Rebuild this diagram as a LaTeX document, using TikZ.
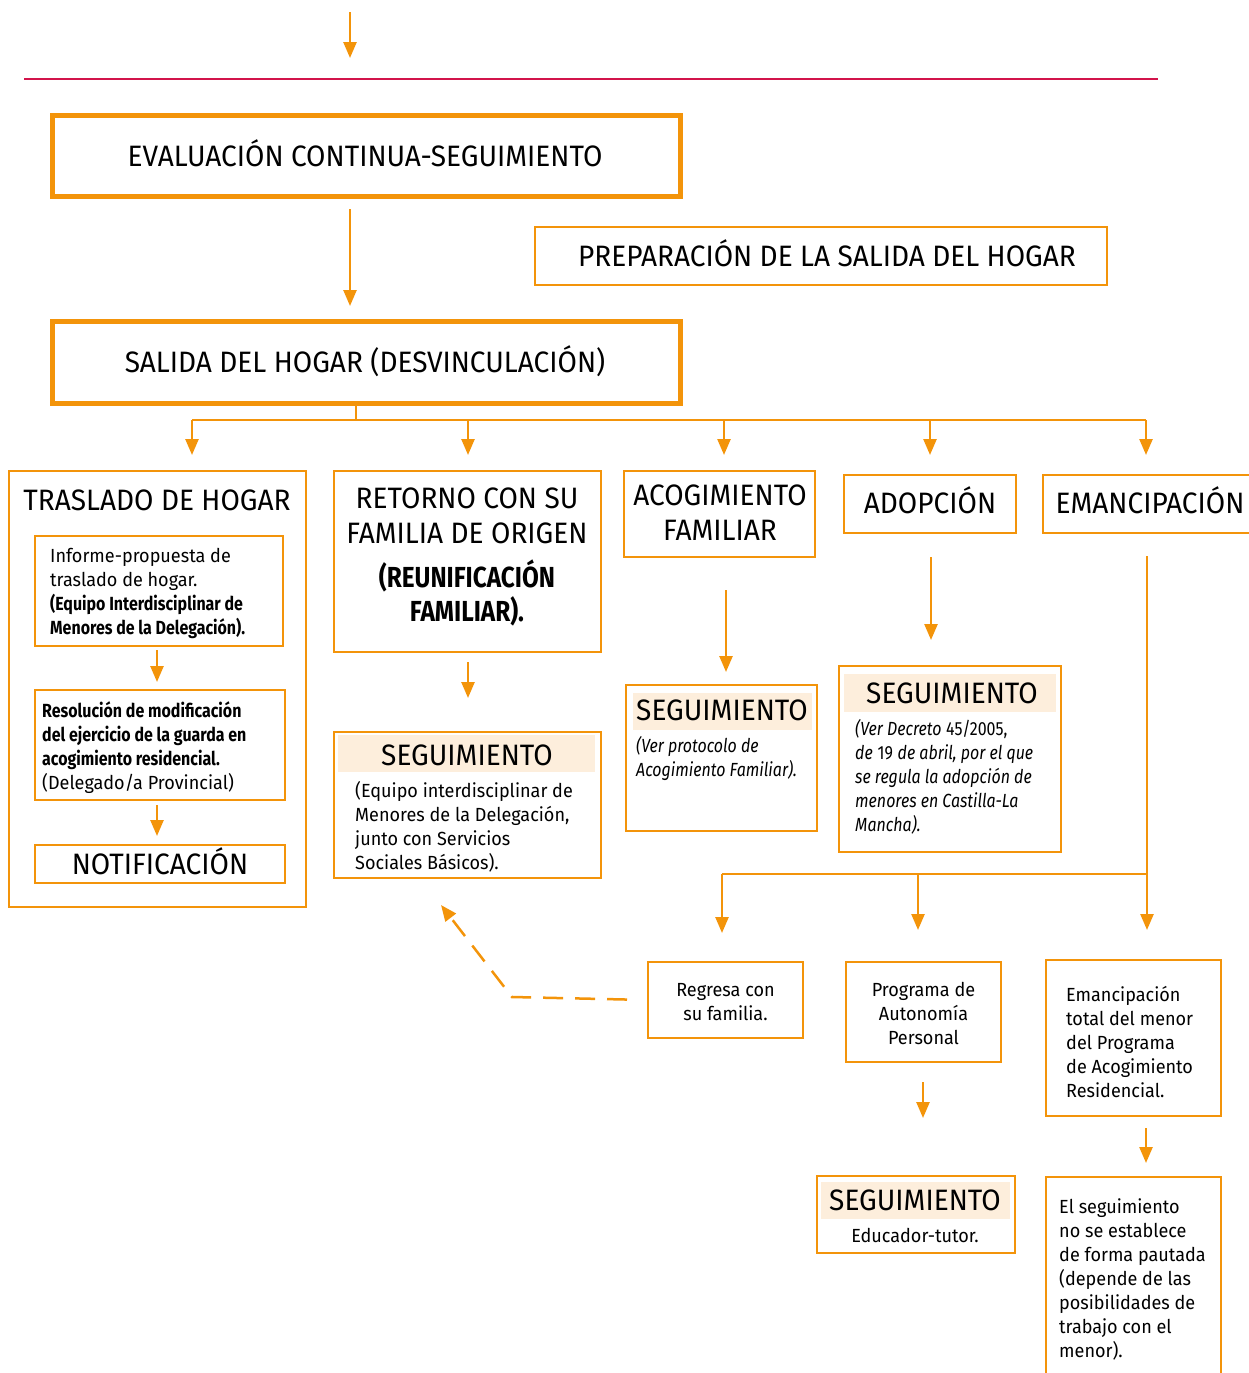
\documentclass[tikz,border=0pt]{standalone}
\usepackage{fontspec}
\setmainfont{Fira Sans}[FakeStretch=0.95]
\newfontfamily\cbold{Fira Sans}[FakeStretch=0.84]
\newfontfamily\citl{Fira Sans}[FakeStretch=0.84]
\usetikzlibrary{arrows.meta}
\definecolor{org}{RGB}{243,148,10}
\definecolor{crim}{RGB}{210,20,75}
\definecolor{beige}{RGB}{253,238,220}
\newcommand\bcond[1]{{\cbold\bfseries #1}}
\newcommand\icond[1]{{\citl\itshape #1}}
\begin{document}
\begin{tikzpicture}[x=1pt,y=-1pt,
 box/.style={draw=org, line width=2pt, inner sep=0pt, outer sep=0pt},
 bigbox/.style={draw=org, line width=5pt, inner sep=0pt, outer sep=0pt},
 ttl/.style={font=\fontsize{29.5}{35}\selectfont, align=center, inner sep=0pt, anchor=base},
 body/.style={font=\fontsize{19}{24}\selectfont, align=left, inner sep=0pt, anchor=base west},
 cbody/.style={font=\fontsize{19}{24}\selectfont, align=center, inner sep=0pt, anchor=base},
 arr/.style={draw=org, line width=2.5pt, -{Triangle[length=16pt,width=13pt]}},
 ln/.style={draw=org, line width=2.5pt},
]
\useasboundingbox (0,0) rectangle (1248,1373);

% top arrow and rule
\coordinate (t0) at (350,12);
\coordinate (t1) at (350,58);
\draw[arr] (t0) -- (t1);
\draw[crim, line width=2pt] (24,79) -- (1158,79);

% main boxes
\node[bigbox, minimum width=628, minimum height=81] (EVAL) at (366,155.5) {};
\node[ttl] (EVALt) at (365,166) {EVALUACIÓN CONTINUA-SEGUIMIENTO};
\node[box, minimum width=572, minimum height=58] (PREP) at (821,256) {};
\node[ttl] (PREPt) at (827,266) {PREPARACIÓN DE LA SALIDA DEL HOGAR};
\node[bigbox, minimum width=628, minimum height=82] (SAL) at (366,362) {};
\node[ttl] (SALt) at (365,372) {SALIDA DEL HOGAR (DESVINCULACIÓN)};

\coordinate (c350) at (350,0);
\draw[arr, shorten <=13pt, shorten >=15pt] (EVAL.south -| c350) -- (SAL.north -| c350);

% second level boxes
\node[box, minimum width=297, minimum height=436] (TRAS) at (157.5,689) {};
\node[ttl] (TRASt) at (157,510) {TRASLADO DE HOGAR};
\node[box, minimum width=267, minimum height=181] (RET) at (467.5,561.5) {};
\node[ttl] (RETt) at (467,543) {RETORNO CON SU\\FAMILIA DE ORIGEN};
\node[ttl, font=\fontsize{29}{34}\cbold\bfseries] (RETb) at (467,621) {(REUNIFICACIÓN\\FAMILIAR).};
\node[box, minimum width=191, minimum height=86] (ACOG) at (719.5,514) {};
\node[ttl] (ACOGt) at (720,540) {ACOGIMIENTO\\FAMILIAR};
\node[box, minimum width=172, minimum height=58] (ADOP) at (930,504) {};
\node[ttl] (ADOPt) at (930,513) {ADOPCIÓN};
\node[box, minimum width=217, minimum height=58] (EMAN) at (1151.5,504) {};
\node[ttl] (EMANt) at (1150,513) {EMANCIPACIÓN};

% bus from SALIDA
\coordinate (hub) at (356,420);
\coordinate (b1) at (192,420);
\coordinate (b2) at (468,420);
\coordinate (b3) at (724,420);
\coordinate (b4) at (930,420);
\coordinate (b5) at (1146,420);
\draw[ln] (SAL.south -| hub) -- (hub);
\draw[ln] (b1) -- (b5);
\draw[arr, shorten >=16pt] (b1) -- (b1 |- TRAS.north);
\draw[arr, shorten >=16pt] (b2) -- (b2 |- RET.north);
\draw[arr, shorten >=16pt] (b3) -- (b3 |- ACOG.north);
\draw[arr, shorten >=20pt] (b4) -- (b4 |- ADOP.north);
\draw[arr, shorten >=20pt] (b5) -- (b5 |- EMAN.north);

% TRASLADO column
\node[box, minimum width=248, minimum height=110] (IN1) at (159,591) {};
\node[body] (IN1t) at (50,634) {Informe-propuesta de\\traslado de hogar.\\\bcond{(Equipo Interdisciplinar de}\\\bcond{Menores de la Delegación).}};
\node[box, minimum width=250, minimum height=110] (IN2) at (160,745) {};
\node[body] (IN2t) at (42,789) {\bcond{Resolución de modificación}\\\bcond{del ejercicio de la guarda en}\\\bcond{acogimiento residencial.}\\(Delegado/a Provincial)};
\node[box, minimum width=250, minimum height=38] (NOT) at (160,864) {};
\node[ttl] (NOTt) at (160,874) {NOTIFICACIÓN};
\coordinate (c157) at (157,0);
\draw[arr, shorten <=4pt, shorten >=8pt] (IN1.south -| c157) -- (IN2.north -| c157);
\draw[arr, shorten <=5pt, shorten >=9pt] (IN2.south -| c157) -- (NOT.north -| c157);

% RETORNO column
\node[box, minimum width=267, minimum height=146] (SEG1) at (467.5,805) {};
\fill[beige] (338,735) rectangle (595,772);
\node[ttl] (SEG1h) at (467,765) {SEGUIMIENTO};
\node[body] (SEG1t) at (355,869) {(Equipo interdisciplinar de\\Menores de la Delegación,\\junto con Servicios\\Sociales Básicos).};
\coordinate (c468) at (468,0);
\draw[arr, shorten <=10pt, shorten >=34pt] (RET.south -| c468) -- (SEG1.north -| c468);

% ACOGIMIENTO column
\node[box, minimum width=191, minimum height=146] (SEG2) at (721.5,758) {};
\fill[beige] (633,693) rectangle (812,730);
\node[ttl] (SEG2h) at (722,720) {SEGUIMIENTO};
\node[body] (SEG2t) at (636,776) {\icond{(Ver protocolo de}\\\icond{Acogimiento Familiar).}};
\coordinate (c726) at (726,0);
\draw[arr, shorten <=33pt, shorten >=13pt] (ACOG.south -| c726) -- (SEG2.north -| c726);

% ADOPCION column
\node[box, minimum width=222, minimum height=186] (SEG3) at (950,759) {};
\fill[beige] (844,674) rectangle (1056,712);
\node[ttl] (SEG3h) at (952,703) {SEGUIMIENTO};
\node[body] (SEG3t) at (855,831) {\icond{(Ver Decreto} {\citl 45/2005,}\\\icond{de} {\citl 19} \icond{de abril, por el que}\\\icond{se regula la adopción de}\\\icond{menores en Castilla-La}\\\icond{Mancha).}};
\coordinate (c931) at (931,0);
\draw[arr, shorten <=24pt, shorten >=26pt] (ADOP.south -| c931) -- (SEG3.north -| c931);

% EMANCIPACION branch
\coordinate (e2) at (1147,874);
\coordinate (d1) at (722,874);
\coordinate (d2) at (918,874);
\draw[ln, shorten <=23pt] (EMAN.south -| e2) -- (e2);
\draw[ln] (e2) -- (d1);

\node[box, minimum width=155, minimum height=76] (REG) at (725.5,1000) {};
\node[cbody] (REGt) at (725.5,1020) {Regresa con\\su familia.};
\node[box, minimum width=155, minimum height=100] (PROG) at (923.5,1012) {};
\node[cbody] (PROGt) at (923.5,1044) {Programa de\\Autonomía\\Personal};
\node[box, minimum width=175, minimum height=156] (EMT) at (1133.5,1038) {};
\node[body] (EMTt) at (1066,1097) {Emancipación\\total del menor\\del Programa\\de Acogimiento\\Residencial.};

\draw[arr, shorten >=29pt] (d1) -- (d1 |- REG.north);
\draw[arr, shorten >=32pt] (d2) -- (d2 |- PROG.north);
\draw[arr, shorten >=30pt] (e2) -- (e2 |- EMT.north);

% dashed return arrow
\coordinate (bend) at (512,997);
\coordinate (dtip) at (441,905);
\draw[arr, dash pattern=on 20pt off 12pt, shorten <=21pt] (REG.west) -- (bend) -- (dtip);

% bottom boxes
\node[box, minimum width=198, minimum height=77] (SEG4) at (916,1214.5) {};
\fill[beige] (821,1182) rectangle (1010,1219);
\node[ttl] (SEG4h) at (915,1210) {SEGUIMIENTO};
\node[cbody] (SEG4t) at (915,1242) {Educador-tutor.};
\coordinate (c923) at (923,0);
\draw[arr, shorten <=20pt, shorten >=58pt] (PROG.south -| c923) -- (SEG4.north -| c923);

\node[box, minimum width=175, minimum height=213] (LAST) at (1133.5,1283.5) {};
\node[body] (LASTt) at (1059,1357) {El seguimiento\\no se establece\\de forma pautada\\(depende de las\\posibilidades de\\trabajo con el\\menor).};
\coordinate (c1146) at (1146,0);
\draw[arr, shorten <=12pt, shorten >=14pt] (EMT.south -| c1146) -- (LAST.north -| c1146);
\end{tikzpicture}
\end{document}
